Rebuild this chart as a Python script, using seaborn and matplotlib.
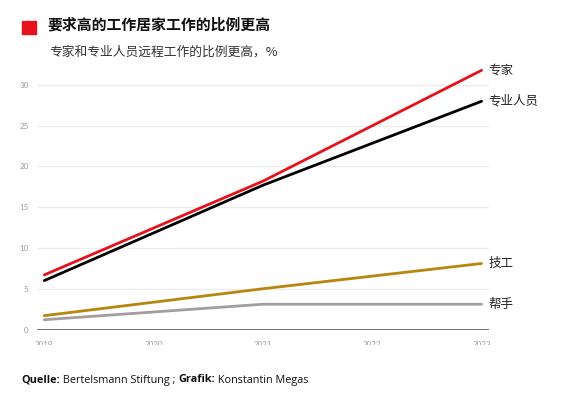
import matplotlib
matplotlib.use("Agg")
import matplotlib.pyplot as plt
import matplotlib.patches as mpatches
from matplotlib.transforms import Bbox, TransformedBbox
import seaborn as sns
import pandas as pd

# ---- data ----
years = [2019, 2021, 2023]
experts = [6.7, 18.2, 31.8]        # 专家
professionals = [6.0, 17.7, 28.0]  # 专业人员
skilled = [1.7, 5.0, 8.1]          # 技工
helpers = [1.2, 3.1, 3.1]          # 帮手
series_names = ["专家", "专业人员", "技工", "帮手"]
x_ticks = [2019, 2020, 2021, 2022, 2023]
y_ticks = [0, 5, 10, 15, 20, 25, 30]

title = "要求高的工作居家工作的比例更高"
subtitle = "专家和专业人员远程工作的比例更高，%"
footer_parts = [("Quelle:", "bold"), (" Bertelsmann Stiftung ; ", "normal"),
                ("Grafik:", "bold"), (" Konstantin Megas", "normal")]

colors = {"专家": "#e5121b", "专业人员": "#000000", "技工": "#b8860e", "帮手": "#a39e9e"}

rows = []
for name, vals in zip(series_names, [experts, professionals, skilled, helpers]):
    for y, v in zip(years, vals):
        rows.append({"year": y, "value": v, "group": name})
df = pd.DataFrame(rows)

sns.set_theme(style="white")
plt.rcParams["font.family"] = ["Noto Sans CJK SC", "DejaVu Sans"]

fig = plt.figure(figsize=(5.75, 3.97), dpi=100)
ax = fig.add_axes([0.0643, 0.170, 0.786, 0.6776])

for y in y_ticks[1:]:
    ax.axhline(y, color="#ececec", lw=1.0, zorder=0)
ax.axhline(0, color="#6b6b6b", lw=1.3, zorder=1)

sns.lineplot(data=df, x="year", y="value", hue="group", hue_order=series_names,
             palette=colors, lw=2.0, legend=False, ax=ax, zorder=3)

ax.set_xlim(2018.933, 2023.067)
ax.set_ylim(0, 33)
ax.set_xlabel("")
ax.set_ylabel("")
for s in ax.spines.values():
    s.set_visible(False)

ax.set_yticks(y_ticks)
ax.set_yticklabels([str(t) for t in y_ticks], fontsize=5.8, color="#9a9a9a",
                   family=["Lato", "DejaVu Sans"])
ax.set_xticks(x_ticks)
ax.set_xticklabels([str(t) for t in x_ticks], fontsize=5.8, color="#9a9a9a",
                   family=["Lato", "DejaVu Sans"])
ax.tick_params(axis="y", length=0, pad=6)
ax.tick_params(axis="x", length=0, pad=8)

# clip x tick labels (they are cut off in the reference)
clip = TransformedBbox(Bbox([[0, 52 / 397], [1, 1]]), fig.transFigure)
for lab in ax.get_xticklabels():
    lab.set_clip_box(clip)
    lab.set_clip_on(True)

# end labels
for name, vals in zip(series_names, [experts, professionals, skilled, helpers]):
    ax.annotate(name, xy=(years[-1], vals[-1]), xytext=(5, 0), textcoords="offset points",
                fontsize=9, color="#222222", va="center", ha="left",
                annotation_clip=False)

# title block
fig.patches.append(mpatches.Rectangle((22 / 575, 1 - 34 / 397), 14 / 575, 13 / 397,
                                      transform=fig.transFigure, color="#e5121b",
                                      figure=fig))
fig.text(47 / 575, 1 - 25 / 397, title, fontsize=10.7, fontweight="bold",
         color="#111111", va="center", ha="left")
fig.text(49 / 575, 1 - 52 / 397, subtitle, fontsize=9.2, color="#333333",
         va="center", ha="left")

# footer, pieces chained one after the other
fig.canvas.draw()
renderer = fig.canvas.get_renderer()
x_px = 21
for txt, weight in footer_parts:
    t = fig.text(x_px / 575, 1 - 380 / 397, txt, fontsize=7.8, fontweight=weight,
                 family=["Open Sans", "DejaVu Sans"], va="center", ha="left",
                 color="#111111")
    bb = t.get_window_extent(renderer=renderer)
    x_px += bb.width

fig.savefig("out.png", dpi=100)
